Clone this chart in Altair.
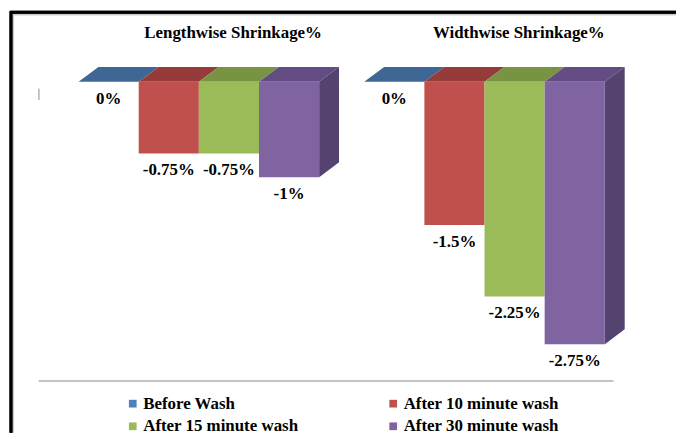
import altair as alt
import pandas as pd

# ---- data ----
groups = ["Lengthwise Shrinkage%", "Widthwise Shrinkage%"]
series = ["Before Wash", "After 10 minute wash", "After 15 minute wash", "After 30 minute wash"]
lengthwise = [0, -0.75, -0.75, -1]
widthwise = [0, -1.5, -2.25, -2.75]
values_by_group = [lengthwise, widthwise]

# ---- style ----
front_colors = ["#4F81BD", "#C0504D", "#9BBB59", "#8064A2"]
top_colors = ["#3E6796", "#953C3A", "#789443", "#634C81"]
side_color = "#54426F"
FONT = "Liberation Serif"
FS = 17

W, H = 670, 424
PX_PER_SLOT = 60.5
PX_PER_UNIT = 96.0
X0_PX = 69.0       # left edge of first bar in plot px
ZERO_PX = 71.0     # zero line in plot px
GROUP_STEP = 4.75  # slots between group starts
DX = 20 / PX_PER_SLOT   # depth offset (slots)
DY = 15 / PX_PER_UNIT   # depth offset (units)

xmin = -X0_PX / PX_PER_SLOT
xmax = xmin + W / PX_PER_SLOT
ymax = ZERO_PX / PX_PER_UNIT
ymin = ymax - H / PX_PER_UNIT

bars, faces, titles = [], [], []
for g, (gname, vals) in enumerate(zip(groups, values_by_group)):
    off = g * GROUP_STEP
    titles.append({"title": gname, "tx": off + 2.57})
    for i, (s, v) in enumerate(zip(series, vals)):
        x0, x1 = off + i, off + i + 1
        bars.append({"group": gname, "series": s, "x0": x0, "x1": x1,
                     "xc": (x0 + x1) / 2, "value": v, "label": f"{v:g}%"})
        key = f"top-{g}-{i}"
        for x, lo, hi in [(x0, 0, 0), (x0 + DX, 0, DY), (x1, 0, DY), (x1 + DX, DY, DY)]:
            faces.append({"key": key, "x": x, "lo": lo, "hi": hi, "c": top_colors[i]})
        if i == len(vals) - 1:
            key = f"side-{g}"
            for x, lo, hi in [(x1, v, 0), (x1 + DX, v + DY, DY)]:
                faces.append({"key": key, "x": x, "lo": lo, "hi": hi, "c": side_color})

bars_df = pd.DataFrame(bars)
faces_df = pd.DataFrame(faces)
titles_df = pd.DataFrame(titles)

xs = alt.Scale(domain=[xmin, xmax], nice=False, zero=False)
ys = alt.Scale(domain=[ymin, ymax], nice=False, zero=False)

faces_layer = alt.Chart(faces_df).mark_area(orient="vertical", opacity=1).encode(
    x=alt.X("x:Q", scale=xs, axis=None),
    y=alt.Y("lo:Q", scale=ys, axis=None),
    y2="hi:Q",
    detail="key:N",
    color=alt.Color("c:N", scale=None),
)

front = alt.Chart(bars_df).mark_rect().encode(
    x=alt.X("x0:Q", scale=xs, axis=None),
    x2="x1:Q",
    y=alt.Y("value:Q", scale=ys, axis=None),
    y2=alt.datum(0),
    color=alt.Color("series:N", sort=series,
                    scale=alt.Scale(domain=series, range=front_colors),
                    legend=alt.Legend(title=None, orient="none", legendX=115, legendY=386,
                                      direction="horizontal",
                                      columns=2, columnPadding=86, rowPadding=5,
                                      symbolType="square", symbolSize=60, symbolStrokeWidth=0,
                                      labelFont=FONT, labelFontSize=FS, labelFontWeight="bold",
                                      labelColor="black", labelLimit=300, symbolOffset=0,
                                      labelOffset=2)),
)

labels = alt.Chart(bars_df).mark_text(font=FONT, fontSize=FS, fontWeight="bold",
                                       color="black", baseline="middle", dy=17).encode(
    x=alt.X("xc:Q", scale=xs, axis=None),
    y=alt.Y("value:Q", scale=ys, axis=None),
    text="label:N",
)

title_text = alt.Chart(titles_df).mark_text(font=FONT, fontSize=FS, fontWeight="bold",
                                            color="black", baseline="middle").encode(
    x=alt.X("tx:Q", scale=xs, axis=None),
    y=alt.value(22),
    text="title:N",
)

sep = alt.Chart(titles_df).mark_rule(color="#BFBFBF", strokeWidth=1.5).encode(
    x=alt.value(29), x2=alt.value(607), y=alt.value(372))
tick = alt.Chart(titles_df).mark_rule(color="#BFBFBF", strokeWidth=1.5).encode(
    x=alt.value(29), y=alt.value(78), y2=alt.value(89))
border_l = alt.Chart(titles_df).mark_rule(color="black", strokeWidth=3).encode(
    x=alt.value(1), y=alt.value(0), y2=alt.value(H))
border_t = alt.Chart(titles_df).mark_rule(color="black", strokeWidth=3).encode(
    y=alt.value(1), x=alt.value(0), x2=alt.value(W))
inner_l = alt.Chart(titles_df).mark_rule(color="#C8C8C8", strokeWidth=1).encode(
    x=alt.value(3.5), y=alt.value(3), y2=alt.value(H))
inner_t = alt.Chart(titles_df).mark_rule(color="#C8C8C8", strokeWidth=1).encode(
    y=alt.value(3.5), x=alt.value(3), x2=alt.value(W))

chart = alt.layer(
    faces_layer, front, labels, title_text, sep, tick,
    inner_l, inner_t, border_l, border_t,
).properties(width=W, height=H, padding=0, background="white").configure_view(stroke=None)

chart.save("out.html", embed_options={"renderer": "svg", "actions": False})
